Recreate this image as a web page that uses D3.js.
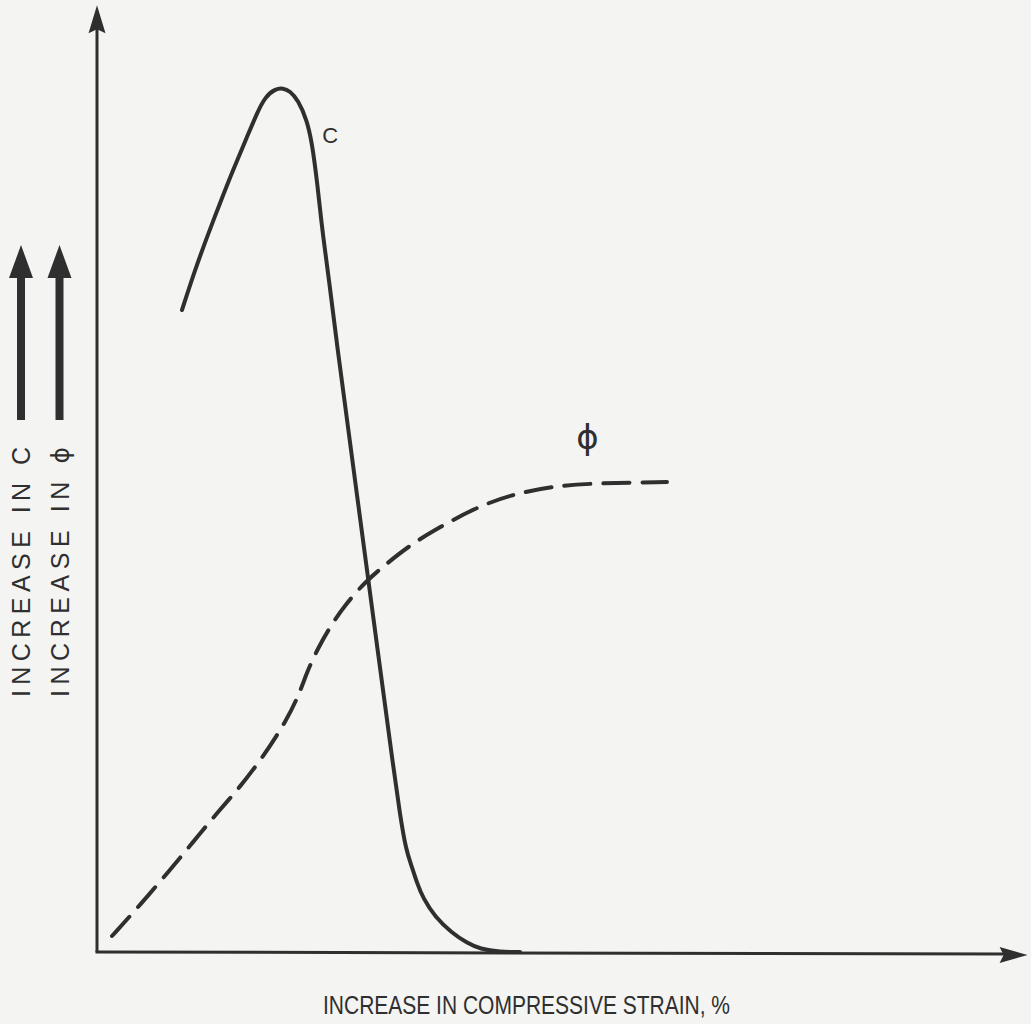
<!DOCTYPE html>
<html>
<head>
<meta charset="utf-8">
<script src="https://cdn.jsdelivr.net/npm/d3@7"></script>
<style>
  html, body { margin: 0; padding: 0; background: #f4f4f2; }
  svg { display: block; }
</style>
</head>
<body>
<script>
// Qualitative curves: cohesion (c) and friction angle (phi) vs. compressive strain
const strainC = [9.44, 10.89, 12.22, 13.67, 15.11, 16.67, 17.78, 18.67, 19.78, 20.67, 21.44, 22.33,
                 23.33, 23.89, 24.44, 25.11, 25.89, 26.44, 28.89, 31.33, 32.89, 33.67, 34.33, 35.0,
                 35.56, 36.22, 37.56, 39.44, 41.11, 42.56, 44.78, 47.0];
const cohesion = [71.33, 75.78, 79.44, 83.22, 86.89, 90.56, 93.22, 95.0, 95.89, 96.0, 95.67, 94.67,
                  92.44, 89.89, 85.78, 79.44, 73.89, 69.11, 50.78, 32.44, 20.78, 15.22, 11.33, 9.44,
                  7.67, 6.0, 3.89, 2.11, 1.0, 0.33, 0.0, 0.0];

const strainPhi = [1.67, 4.78, 8.11, 10.67, 13.33, 15.89, 18.44, 21.11, 22.56, 23.33, 24.56, 25.89,
                   27.56, 29.78, 32.0, 34.78, 38.11, 42.0, 45.89, 50.67, 55.89, 63.33];
const friction = [1.78, 5.22, 9.11, 12.22, 15.44, 18.33, 21.67, 25.78, 28.89, 31.11, 33.78, 36.11,
                  38.56, 41.11, 43.0, 45.22, 47.22, 49.33, 50.78, 51.78, 52.11, 52.22];

const xLabel = "INCREASE IN COMPRESSIVE STRAIN, %";
const yLabels = ["INCREASE IN C", "INCREASE IN "];
const curveLabels = [{ text: "C", x: 25.9, y: 89.9 }, { text: "\u03D5", x: 54.5, y: 55.9 }];

const W = 1031, H = 1024;
const ink = "#2f2f2f";

const svg = d3.select("body").append("svg")
  .attr("width", W).attr("height", H);

svg.append("rect").attr("width", W).attr("height", H).attr("fill", "#f4f4f2");

const x = d3.scaleLinear().domain([0, 100]).range([97, 997]);
const y = d3.scaleLinear().domain([0, 100]).range([952, 52]);

// Axes with arrowheads
const xEnd = 103.4, yEnd = 105.2;
svg.append("line")
  .attr("x1", x(0)).attr("y1", y(0)).attr("x2", x(0)).attr("y2", y(yEnd) + 20)
  .attr("stroke", ink).attr("stroke-width", 3);
svg.append("line")
  .attr("x1", x(0) - 1.5).attr("y1", y(0)).attr("x2", x(xEnd) - 20).attr("y2", y(0) + 2)
  .attr("stroke", ink).attr("stroke-width", 3);
svg.append("path")
  .attr("d", `M${x(0)},${y(yEnd)} L${x(0) - 8.5},${y(yEnd) + 28} L${x(0)},${y(yEnd) + 24} L${x(0) + 8.5},${y(yEnd) + 28} Z`)
  .attr("fill", ink);
svg.append("path")
  .attr("d", `M${x(xEnd)},${y(0) + 3} L${x(xEnd) - 28},${y(0) + 3 - 8} L${x(xEnd) - 24},${y(0) + 3} L${x(xEnd) - 28},${y(0) + 3 + 8} Z`)
  .attr("fill", ink);

// Curves
const line = d3.line().curve(d3.curveBasis);

svg.append("path")
  .datum(strainC.map((s, i) => [x(s), y(cohesion[i])]))
  .attr("d", line)
  .attr("fill", "none").attr("stroke", ink).attr("stroke-width", 4)
  .attr("stroke-linecap", "round").attr("stroke-linejoin", "round");

svg.append("path")
  .datum(strainPhi.map((s, i) => [x(s), y(friction[i])]))
  .attr("d", line)
  .attr("fill", "none").attr("stroke", ink).attr("stroke-width", 4)
  .attr("stroke-dasharray", "26,13")
  .attr("stroke-linecap", "round");

// Curve labels
svg.append("text")
  .attr("x", x(curveLabels[0].x)).attr("y", y(curveLabels[0].y))
  .attr("text-anchor", "middle")
  .attr("font-family", "Liberation Sans, Arial, sans-serif")
  .attr("font-size", 22).attr("fill", ink)
  .text(curveLabels[0].text);
svg.append("text")
  .attr("x", x(curveLabels[1].x)).attr("y", y(curveLabels[1].y))
  .attr("text-anchor", "middle")
  .attr("font-family", "DejaVu Sans, sans-serif")
  .attr("font-size", 34).attr("fill", ink)
  .text(curveLabels[1].text);

// X axis title
svg.append("text")
  .attr("x", 323).attr("y", 1014)
  .attr("font-family", "Liberation Sans, Arial, sans-serif")
  .attr("font-size", 25).attr("fill", ink)
  .attr("textLength", 407).attr("lengthAdjust", "spacingAndGlyphs")
  .text(xLabel);

// Y axis titles with upward arrows
const colX = [21, 59.5];
colX.forEach((cx, i) => {
  svg.append("rect")
    .attr("x", cx - 4).attr("y", 272).attr("width", 8).attr("height", 148)
    .attr("fill", ink);
  svg.append("path")
    .attr("d", `M${cx},${245} L${cx - 12},${278} L${cx + 12},${278} Z`)
    .attr("fill", ink);
  const t = svg.append("text")
    .attr("transform", `translate(${cx + 9},697) rotate(-90)`)
    .attr("font-family", "Liberation Sans, Arial, sans-serif")
    .attr("font-size", 25).attr("fill", ink)
    .attr("textLength", 250).attr("lengthAdjust", "spacing");
  t.append("tspan").text(yLabels[i]);
  if (i === 1) {
    t.append("tspan").attr("font-family", "DejaVu Sans, sans-serif").text("\u03D5");
  }
});
</script>
</body>
</html>
